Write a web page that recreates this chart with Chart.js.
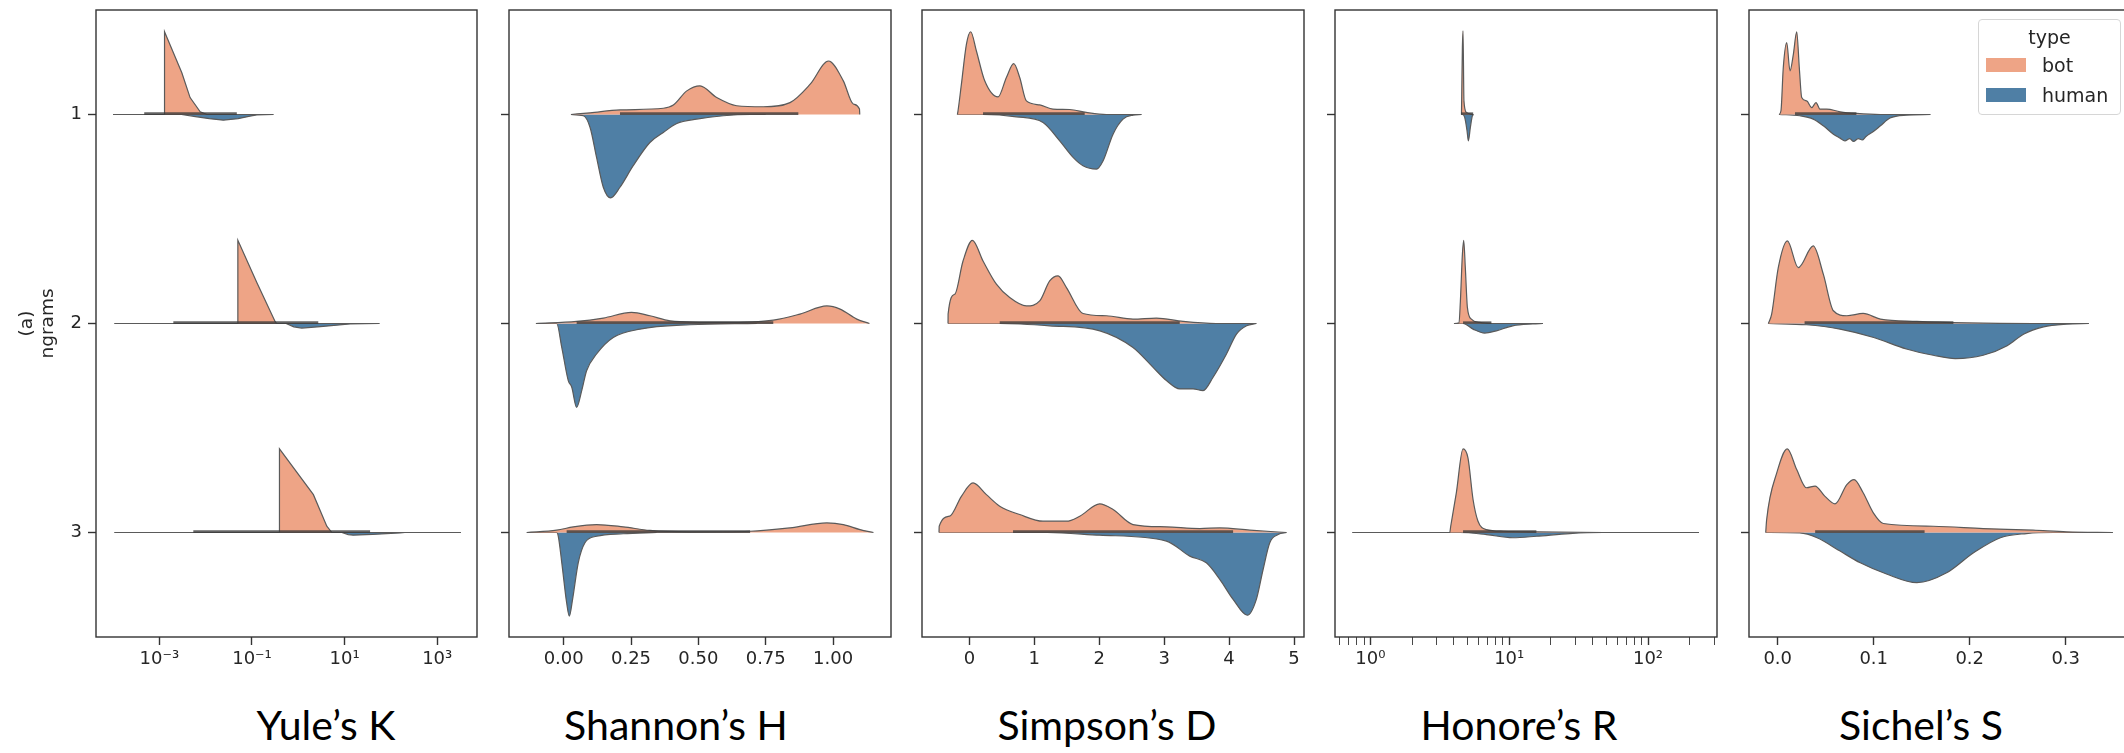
<!DOCTYPE html>
<html>
  <head>
    <meta charset="utf-8" />
    <script src="https://cdn.jsdelivr.net/npm/chart.js@4"></script>
    <style>
      html, body { margin: 0; padding: 0; width: 2124px; height: 753px; overflow: hidden; background: #fff; }
      #wrap { position: relative; width: 2124px; height: 753px; overflow: hidden; }
      canvas { position: absolute; }
      .metric {
        position: absolute; top: 704px; line-height: 41px; font-family: Lato, "Open Sans", sans-serif;
        font-size: 41px; color: #000; transform: translateX(-50%); white-space: nowrap;
      }
      #legend {
        position: absolute; left: 1978px; top: 19px; width: 143px; height: 96px; box-sizing: border-box;
        border: 1px solid #d6d6d6; border-radius: 4px; background: rgba(255, 255, 255, 0.85);
        font-family: "DejaVu Sans", sans-serif; font-size: 19px; color: #262626;
      }
      #legend div { position: absolute; white-space: nowrap; line-height: 22px; }
      #legend .sw { position: absolute; left: 7px; width: 40px; height: 14px; }
    </style>
  </head>

  <body>
    <div id="wrap">
      <canvas id="c1"></canvas>
      <canvas id="c2"></canvas>
      <canvas id="c3"></canvas>
      <canvas id="c4"></canvas>
      <canvas id="c5"></canvas>
      <div id="legend"></div>
    </div>

    <script>
      // categories and labels
      const rows = [1, 2, 3];
      const types = ["bot", "human"];
      const metricNames = ["Yule’s K", "Shannon’s H", "Simpson’s D", "Honore’s R", "Sichel’s S"];

      // tick values and labels
      const yuleTicks = [1e-3, 1e-1, 1e1, 1e3];
      const yuleTickLabels = ["10⁻³", "10⁻¹", "10¹", "10³"];
      const shannonTicks = [0, 0.25, 0.5, 0.75, 1];
      const shannonTickLabels = ["0.00", "0.25", "0.50", "0.75", "1.00"];
      const simpsonTicks = [0, 1, 2, 3, 4, 5];
      const simpsonTickLabels = ["0", "1", "2", "3", "4", "5"];
      const honoreTicks = [0.6, 0.7, 0.8, 0.9, 1, 2, 3, 4, 5, 6, 7, 8, 9, 10, 20, 30, 40, 50, 60, 70, 80, 90, 100, 200, 300];
      const honoreMajor = { 1: "10⁰", 10: "10¹", 100: "10²" };
      const sichelTicks = [0, 0.1, 0.2, 0.3];
      const sichelTickLabels = ["0.0", "0.1", "0.2", "0.3"];

      // violin halves: [value, half width in category units]
      const yuleBot1 = [[1.0e-4, 0], [1.28e-3, 0], [1.29e-3, 0.396], [3.05e-3, 0.2], [4.6e-3, 0.081], [7.6e-3, 0.013], [0.0106, 0], [0.29, 0]];
      const yuleHuman1 = [[1.0e-4, 0], [3.0e-3, 0], [0.006, 0.01], [0.012, 0.02], [0.024, 0.027], [0.05, 0.02], [0.09, 0.008], [0.127, 0.002], [0.29, 0]];
      const yuleBot2 = [[1.07e-4, 0], [0.0493, 0], [0.0495, 0.398], [0.127, 0.196], [0.315, 0.01], [0.34, 0], [56.5, 0]];
      const yuleHuman2 = [[1.07e-4, 0], [0.545, 0], [0.8, 0.016], [1.19, 0.022], [3, 0.015], [13.2, 0.002], [56.5, 0]];
      const yuleBot3 = [[1.07e-4, 0], [0.39, 0], [0.392, 0.4], [2.12, 0.181], [4.13, 0.03], [5.3, 0], [3240, 0]];
      const yuleHuman3 = [[1.07e-4, 0], [8.7, 0], [12, 0.01], [15.3, 0.013], [40, 0.009], [158, 0.002], [200, 0], [3240, 0]];
      const yuleBox = [[4.7e-4, 0.047], [2.0e-3, 2.7], [5.4e-3, 35.5]];

      const shannonBot1 = [[0.027, 0], [0.098, 0.008], [0.209, 0.022], [0.37, 0.03], [0.407, 0.045], [0.457, 0.113], [0.506, 0.137], [0.568, 0.081], [0.642, 0.042], [0.741, 0.037], [0.84, 0.057], [0.915, 0.145], [0.983, 0.256], [1.038, 0.161], [1.075, 0.05], [1.098, 0.026], [1.099, 0]];
      const shannonHuman1 = [[0.027, 0], [0.073, 0.006], [0.098, 0.062], [0.122, 0.205], [0.147, 0.348], [0.174, 0.399], [0.209, 0.348], [0.258, 0.245], [0.32, 0.134], [0.37, 0.086], [0.42, 0.043], [0.494, 0.022], [0.593, 0.006], [0.692, 0], [0.75, 0]];
      const shannonBot2 = [[-0.103, 0], [0.048, 0.01], [0.147, 0.026], [0.252, 0.053], [0.32, 0.037], [0.395, 0.013], [0.593, 0.005], [0.778, 0.016], [0.877, 0.045], [0.977, 0.084], [1.026, 0.069], [1.088, 0.021], [1.135, 0]];
      const shannonHuman2 = [[-0.103, 0], [-0.026, 0], [-0.007, 0.115], [0.017, 0.273], [0.03, 0.305], [0.048, 0.401], [0.067, 0.321], [0.085, 0.226], [0.122, 0.146], [0.184, 0.067], [0.283, 0.027], [0.469, 0.006], [0.717, 0]];
      const shannonBot3 = [[-0.137, 0], [-0.026, 0.011], [0.036, 0.027], [0.122, 0.038], [0.221, 0.027], [0.32, 0.01], [0.469, 0.003], [0.692, 0.006], [0.84, 0.022], [0.977, 0.046], [1.038, 0.038], [1.1, 0.014], [1.15, 0]];
      const shannonHuman3 = [[-0.137, 0], [-0.026, 0], [-0.02, 0.018], [-0.007, 0.145], [0.011, 0.336], [0.021, 0.4], [0.033, 0.32], [0.054, 0.145], [0.079, 0.049], [0.122, 0.018], [0.221, 0.006], [0.345, 0]];
      const shannonBox = [[0.209, 0.871], [0.048, 0.778], [0.011, 0.692]];

      const simpsonBot1 = [[-0.185, 0], [-0.175, 0.018], [-0.123, 0.145], [-0.046, 0.336], [0.02, 0.396], [0.108, 0.304], [0.236, 0.161], [0.441, 0.084], [0.57, 0.177], [0.683, 0.243], [0.775, 0.177], [0.878, 0.065], [1.083, 0.046], [1.288, 0.026], [1.545, 0.024], [1.8, 0.01], [2.11, 0], [2.65, 0]];
      const simpsonHuman1 = [[-0.185, 0], [0.21, 0], [0.724, 0.011], [1.134, 0.038], [1.391, 0.126], [1.597, 0.205], [1.75, 0.245], [1.957, 0.261], [2.06, 0.221], [2.213, 0.094], [2.367, 0.022], [2.52, 0.003], [2.65, 0]];
      const simpsonBot2 = [[-0.329, 0], [-0.328, 0.045], [-0.226, 0.14], [-0.098, 0.299], [0.046, 0.398], [0.21, 0.299], [0.416, 0.188], [0.621, 0.124], [0.878, 0.084], [1.083, 0.108], [1.237, 0.204], [1.366, 0.228], [1.495, 0.172], [1.75, 0.048], [2.11, 0.037], [2.52, 0.021], [2.88, 0.026], [3.29, 0.01], [3.8, 0], [4.42, 0]];
      const simpsonHuman2 = [[-0.329, 0], [0.467, 0], [1.237, 0.011], [2.01, 0.035], [2.52, 0.115], [2.83, 0.21], [3.035, 0.273], [3.24, 0.313], [3.445, 0.313], [3.6, 0.321], [3.754, 0.257], [3.96, 0.146], [4.114, 0.051], [4.27, 0.011], [4.42, 0]];
      const simpsonBot3 = [[-0.468, 0], [-0.465, 0.03], [-0.304, 0.078], [-0.123, 0.173], [0.056, 0.237], [0.262, 0.181], [0.467, 0.126], [0.775, 0.086], [1.134, 0.054], [1.495, 0.054], [1.7, 0.078], [2.008, 0.137], [2.213, 0.11], [2.52, 0.038], [3.035, 0.027], [3.55, 0.019], [3.857, 0.022], [4.32, 0.011], [4.884, 0]];
      const simpsonHuman3 = [[-0.468, 0], [1.2, 0], [2.008, 0.013], [3.035, 0.041], [3.394, 0.113], [3.65, 0.145], [3.857, 0.224], [4.062, 0.32], [4.283, 0.396], [4.42, 0.32], [4.524, 0.177], [4.627, 0.049], [4.755, 0.01], [4.884, 0]];
      const simpsonBox = [[0.21, 1.776], [0.467, 3.24], [0.672, 4.062]];

      const honoreBot1 = [[4.53, 0], [4.6, 0.32], [4.65, 0.4], [4.72, 0.065], [4.92, 0.01], [5.49, 0]];
      const honoreHuman1 = [[4.53, 0], [4.6, 0], [4.78, 0.014], [4.97, 0.078], [5.08, 0.126], [5.25, 0.062], [5.43, 0.006], [5.55, 0]];
      const honoreBot2 = [[4.0, 0], [4.35, 0.003], [4.45, 0.108], [4.6, 0.331], [4.7, 0.398], [4.83, 0.267], [5.0, 0.076], [5.34, 0.021], [6.13, 0.005], [7.64, 0], [17.5, 0]];
      const honoreHuman2 = [[4.0, 0], [4.65, 0], [5.49, 0.027], [6.66, 0.046], [8.08, 0.035], [10.6, 0.011], [14.8, 0.002], [17.5, 0]];
      const honoreBot3 = [[0.742, 0], [3.73, 0], [3.79, 0.03], [4.16, 0.19], [4.65, 0.4], [5.05, 0.356], [5.49, 0.158], [5.96, 0.054], [6.85, 0.014], [9.03, 0.006], [15.7, 0.003], [47.4, 0], [233, 0]];
      const honoreHuman3 = [[0.742, 0], [4.4, 0], [6.85, 0.01], [10.6, 0.025], [15.7, 0.018], [27.3, 0.005], [47.4, 0], [233, 0]];
      const honoreBox = [[4.5, 5.5], [4.65, 7.44], [4.65, 15.7]];

      const sichelBot1 = [[0.0014, 0], [0.0034, 0.018], [0.0058, 0.224], [0.0094, 0.344], [0.0128, 0.209], [0.0163, 0.288], [0.0198, 0.396], [0.0225, 0.224], [0.025, 0.081], [0.0302, 0.065], [0.0354, 0.033], [0.0399, 0.057], [0.044, 0.026], [0.051, 0.026], [0.065, 0.013], [0.082, 0.005], [0.107, 0], [0.159, 0]];
      const sichelHuman1 = [[0.0014, 0], [0.023, 0.006], [0.037, 0.022], [0.0475, 0.054], [0.058, 0.094], [0.065, 0.113], [0.07, 0.126], [0.075, 0.115], [0.079, 0.129], [0.084, 0.115], [0.088, 0.122], [0.092, 0.105], [0.1, 0.08], [0.107, 0.054], [0.117, 0.017], [0.134, 0.003], [0.159, 0]];
      const sichelBot2 = [[-0.0098, 0], [-0.0063, 0.045], [0.0006, 0.267], [0.01, 0.395], [0.0215, 0.267], [0.037, 0.371], [0.0475, 0.236], [0.058, 0.061], [0.072, 0.037], [0.089, 0.048], [0.107, 0.021], [0.145, 0.01], [0.197, 0.003], [0.266, 0], [0.324, 0]];
      const sichelHuman2 = [[-0.0098, 0], [0.03, 0.006], [0.065, 0.027], [0.1, 0.067], [0.134, 0.122], [0.162, 0.152], [0.185, 0.168], [0.214, 0.152], [0.239, 0.106], [0.256, 0.051], [0.277, 0.016], [0.301, 0.003], [0.324, 0]];
      const sichelBot3 = [[-0.0125, 0], [-0.0115, 0.062], [-0.001, 0.285], [0.01, 0.4], [0.0198, 0.301], [0.03, 0.214], [0.0389, 0.222], [0.049, 0.174], [0.0597, 0.137], [0.072, 0.229], [0.0795, 0.253], [0.089, 0.19], [0.0996, 0.094], [0.11, 0.043], [0.162, 0.03], [0.214, 0.019], [0.266, 0.011], [0.301, 0.003], [0.349, 0]];
      const sichelHuman3 = [[-0.0125, 0], [0.023, 0.002], [0.041, 0.025], [0.065, 0.089], [0.086, 0.145], [0.114, 0.2], [0.145, 0.24], [0.176, 0.193], [0.204, 0.097], [0.232, 0.025], [0.259, 0.005], [0.287, 0], [0.349, 0]];
      const sichelBox = [[0.018, 0.082], [0.028, 0.183], [0.039, 0.153]];

      const botColor = "#eea486";
      const humanColor = "#4f7fa5";
      const edgeColor = "#5a5a5a";
      const inkColor = "#262626";
      const tickFont = { family: "DejaVu Sans", size: 18 };

      const panels = [
        { id: "c1", kind: "logarithmic", min: 4.27e-5, max: 7244, ticks: yuleTicks, labels: yuleTickLabels,
          bot: [yuleBot1, yuleBot2, yuleBot3], human: [yuleHuman1, yuleHuman2, yuleHuman3], box: yuleBox,
          left: 96, right: 477, smooth: false, center: 326 },
        { id: "c2", kind: "linear", min: -0.203, max: 1.215, ticks: shannonTicks, labels: shannonTickLabels,
          bot: [shannonBot1, shannonBot2, shannonBot3], human: [shannonHuman1, shannonHuman2, shannonHuman3], box: shannonBox,
          left: 509, right: 891, smooth: true, center: 676 },
        { id: "c3", kind: "linear", min: -0.73, max: 5.154, ticks: simpsonTicks, labels: simpsonTickLabels,
          bot: [simpsonBot1, simpsonBot2, simpsonBot3], human: [simpsonHuman1, simpsonHuman2, simpsonHuman3], box: simpsonBox,
          left: 922, right: 1304, smooth: true, center: 1107 },
        { id: "c4", kind: "logarithmic", min: 0.556, max: 314, ticks: honoreTicks, labels: honoreTicks.map((v) => honoreMajor[v] || ""),
          bot: [honoreBot1, honoreBot2, honoreBot3], human: [honoreHuman1, honoreHuman2, honoreHuman3], box: honoreBox,
          left: 1335, right: 1717, smooth: true, center: 1519 },
        { id: "c5", kind: "linear", min: -0.0299, max: 0.368, ticks: sichelTicks, labels: sichelTickLabels,
          bot: [sichelBot1, sichelBot2, sichelBot3], human: [sichelHuman1, sichelHuman2, sichelHuman3], box: sichelBox,
          left: 1749, right: 2131, smooth: true, center: 1921 },
      ];

      const frame = {
        id: "frame",
        afterDraw(chart) {
          const { ctx, chartArea: a } = chart;
          ctx.save();
          ctx.strokeStyle = "#333";
          ctx.lineWidth = 1.4;
          ctx.strokeRect(a.left, a.top, a.right - a.left, a.bottom - a.top);
          ctx.restore();
        },
      };

      function half(points, row, sign, color, smooth) {
        return {
          data: points.map(([x, h]) => ({ x: x, y: row + sign * h })),
          showLine: true,
          fill: { value: row },
          backgroundColor: color,
          borderColor: edgeColor,
          borderWidth: 1.2,
          pointRadius: 0,
          tension: 0,
          cubicInterpolationMode: smooth ? "monotone" : "default",
        };
      }

      panels.forEach((p, k) => {
        const first = k === 0;
        const yW = first ? 96 : 20;
        const canvas = document.getElementById(p.id);
        canvas.width = p.right - p.left + yW + 20;
        canvas.height = 30 + 627 + 60;
        canvas.style.left = p.left - yW + "px";
        canvas.style.top = "-20px";

        const datasets = [];
        rows.forEach((r, i) => {
          datasets.push({
            data: [{ x: p.box[i][0], y: r - 0.004 }, { x: p.box[i][1], y: r - 0.004 }],
            showLine: true, fill: false, borderColor: "rgba(60, 60, 60, 0.8)", borderWidth: 2.6, pointRadius: 0,
          });
        });
        rows.forEach((r, i) => {
          datasets.push(half(p.bot[i], r, -1, botColor, p.smooth));
          datasets.push(half(p.human[i], r, 1, humanColor, p.smooth));
        });

        new Chart(canvas, {
          type: "scatter",
          data: { datasets },
          options: {
            responsive: false,
            animation: false,
            devicePixelRatio: 1,
            layout: { padding: { left: 0, top: 30, right: 20, bottom: 0 } },
            plugins: { legend: { display: false }, tooltip: { enabled: false } },
            scales: {
              x: {
                type: p.kind,
                min: p.min,
                max: p.max,
                afterBuildTicks: (s) => { s.ticks = p.ticks.map((v) => ({ value: v })); },
                afterFit: (s) => { s.height = 60; },
                ticks: {
                  autoSkip: false, maxRotation: 0, padding: 4, color: inkColor, font: tickFont,
                  callback: (v, i) => p.labels[i],
                },
                grid: {
                  drawOnChartArea: false, drawTicks: true, tickLength: 8, tickColor: "#333",
                  tickWidth: (c) => (p.labels[c.index] === "" ? 0.9 : 1.4),
                },
                border: { display: false },
              },
              y: {
                type: "linear",
                min: 0.5,
                max: 3.5,
                reverse: true,
                afterBuildTicks: (s) => { s.ticks = rows.map((v) => ({ value: v })); },
                afterFit: (s) => { s.width = yW; },
                ticks: { display: first, padding: 6, color: inkColor, font: tickFont },
                grid: { drawOnChartArea: false, drawTicks: true, tickLength: 8, tickColor: "#333", tickWidth: 1.4 },
                border: { display: false },
                title: {
                  display: first,
                  text: ["(a)", "ngrams"],
                  color: inkColor,
                  font: { family: "DejaVu Sans", size: 18.5, lineHeight: 1.17 },
                  padding: { top: 16, bottom: 0 },
                },
              },
            },
          },
          plugins: [frame],
        });

        const label = document.createElement("div");
        label.className = "metric";
        label.style.left = p.center + "px";
        label.textContent = metricNames[k];
        document.getElementById("wrap").appendChild(label);
      });

      // legend for the hue
      const legend = document.getElementById("legend");
      const title = document.createElement("div");
      title.textContent = "type";
      title.style.left = "0px";
      title.style.width = "141px";
      title.style.textAlign = "center";
      title.style.top = "6px";
      legend.appendChild(title);
      [botColor, humanColor].forEach((c, i) => {
        const sw = document.createElement("span");
        sw.className = "sw";
        sw.style.top = 38 + i * 30 + "px";
        sw.style.background = c;
        legend.appendChild(sw);
        const t = document.createElement("div");
        t.textContent = types[i];
        t.style.left = "63px";
        t.style.top = 34 + i * 30 + "px";
        legend.appendChild(t);
      });
    </script>
  </body>
</html>
